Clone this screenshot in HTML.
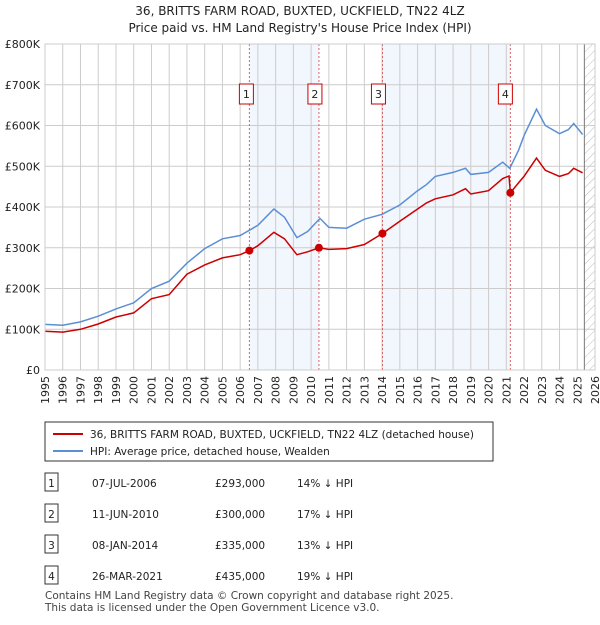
<!DOCTYPE html>
<html><head><meta charset="utf-8"><style>
body{margin:0;background:#fff;font-family:"Liberation Sans","DejaVu Sans",sans-serif;}
svg text{font-family:"DejaVu Sans","Liberation Sans",sans-serif;}
</style></head><body>
<svg width="600" height="620" xmlns="http://www.w3.org/2000/svg">
<defs><pattern id="hatch" width="6" height="6" patternUnits="userSpaceOnUse" patternTransform="rotate(45)"><line x1="0" y1="0" x2="0" y2="6" stroke="#bbb" stroke-width="1"/></pattern></defs>
<text x="300" y="15" text-anchor="middle" font-size="12" fill="#222">36, BRITTS FARM ROAD, BUXTED, UCKFIELD, TN22 4LZ</text>
<text x="300" y="32" text-anchor="middle" font-size="12" fill="#222">Price paid vs. HM Land Registry's House Price Index (HPI)</text>
<g id="plot"></g>
<g>
<rect x="45" y="422" width="448" height="39" fill="#fff" stroke="#333"/>
<line x1="53" y1="434" x2="83" y2="434" stroke="#cc0000" stroke-width="2"/>
<text x="90" y="438" font-size="10.5" fill="#222">36, BRITTS FARM ROAD, BUXTED, UCKFIELD, TN22 4LZ (detached house)</text>
<line x1="53" y1="451" x2="83" y2="451" stroke="#5b8fd4" stroke-width="2"/>
<text x="90" y="455" font-size="10.5" fill="#222">HPI: Average price, detached house, Wealden</text>
</g>
<g id="table" font-size="10.5" fill="#222"></g>
<text x="45" y="599" font-size="10.5" fill="#444">Contains HM Land Registry data © Crown copyright and database right 2025.</text>
<text x="45" y="611" font-size="10.5" fill="#444">This data is licensed under the Open Government Licence v3.0.</text>
</svg>
<script>
const hpiYears=[1995,1996,1997,1998,1999,2000,2001,2002,2003,2004,2005,2006,2007,2007.9,2008.5,2009.2,2009.8,2010.5,2011,2012,2013,2014,2015,2016,2016.5,2017,2018,2018.7,2019,2020,2020.8,2021.2,2021.7,2022,2022.7,2023.2,2024,2024.5,2024.8,2025.3];
const hpiValues=[112,110,118,132,150,165,200,218,262,298,322,330,355,395,375,325,340,372,350,348,370,382,405,440,455,475,485,495,480,485,510,495,540,575,640,600,580,590,605,578];
const priceYears=[1995,1996,1997,1998,1999,2000,2001,2002,2003,2004,2005,2006,2006.52,2007,2007.9,2008.5,2009.2,2009.8,2010.44,2011,2012,2013,2014.02,2015,2016,2016.5,2017,2018,2018.7,2019,2020,2020.8,2021.15,2021.23,2021.7,2022,2022.7,2023.2,2024,2024.5,2024.8,2025.3];
const priceValues=[95,93,100,113,130,140,175,185,235,258,275,283,293,305,338,322,283,290,300,296,298,308,335,365,395,410,420,430,445,432,440,470,476,435,460,475,520,490,475,482,495,484];
const saleLabels=["1","2","3","4"];
const saleYears=[2006.52,2010.44,2014.02,2021.23];
const saleValues=[293,300,335,435];
const saleDates=["07-JUL-2006","11-JUN-2010","08-JAN-2014","26-MAR-2021"];
const salePrices=["£293,000","£300,000","£335,000","£435,000"];
const saleDiffs=["14% ↓ HPI","17% ↓ HPI","13% ↓ HPI","19% ↓ HPI"];
const yTicks=[0,100,200,300,400,500,600,700,800];
const yTickLabels=["£0","£100K","£200K","£300K","£400K","£500K","£600K","£700K","£800K"];
const xStart=1995,xEnd=2026,dataEnd=2025.4;

const L=45,R=595,T=44,B=370,NS="http://www.w3.org/2000/svg";
const xs=y=>L+(y-xStart)/(xEnd-xStart)*(R-L);
const ys=v=>B-v/800*(B-T);
const plot=document.getElementById('plot');
function mk(tag,attrs,parent){const e=document.createElementNS(NS,tag);for(const k in attrs)e.setAttribute(k,attrs[k]);(parent||plot).appendChild(e);return e;}
for(let i=0;i<saleYears.length;i+=2){
 const r=mk('rect',{x:xs(saleYears[i]),y:T,width:xs(saleYears[i+1])-xs(saleYears[i]),height:B-T,fill:'#f2f6fd'});
 
 
}
const h=mk('rect',{x:xs(dataEnd),y:T,width:R-xs(dataEnd),height:B-T,fill:'url(#hatch)'});


for(let y=xStart;y<=xEnd;y++){
 const g=mk('line',{x1:xs(y),x2:xs(y),y1:T,y2:B,stroke:'#ccc','stroke-width':1});
 
 
 const t=mk('text',{x:0,y:0,'font-size':11,fill:'#222','text-anchor':'end',transform:`translate(${xs(y)+4},${B+6}) rotate(-90)`});
 t.textContent=y;
 
 
}
yTicks.forEach((v,i)=>{
 const g=mk('line',{x1:L,x2:R,y1:ys(v),y2:ys(v),stroke:'#ccc','stroke-width':1});
 
 
 const t=mk('text',{x:40,y:ys(v)+4,'font-size':11,fill:'#222','text-anchor':'end'});
 t.textContent=yTickLabels[i];
 
 
});
const dl=mk('line',{x1:xs(dataEnd),x2:xs(dataEnd),y1:T,y2:B,stroke:'#777','stroke-width':1});


const boxOff=[3,4,4,5];
saleYears.forEach((y,i)=>{
 const l=mk('line',{x1:xs(y),x2:xs(y),y1:T,y2:B,stroke:'#e06060','stroke-width':1,'stroke-dasharray':'2,2'});
 
 
 const bx=xs(y)-boxOff[i];
 const r=mk('rect',{x:bx-7,y:84,width:14,height:20,fill:'#fff',stroke:'#cc0000'});
 
 
 const t=mk('text',{x:bx,y:98,'font-size':11,'text-anchor':'middle',fill:'#222'});
 t.textContent=saleLabels[i];
 
 
});
function line(xa,va,col,name){
 const p=mk('path',{d:xa.map((x,i)=>(i?'L':'M')+xs(x).toFixed(1)+','+ys(va[i]).toFixed(1)).join(''),fill:'none',stroke:col,'stroke-width':1.5});
 
 
}
line(hpiYears,hpiValues,'#5b8fd4','hpi-line');
line(priceYears,priceValues,'#cc0000','price-line');
saleYears.forEach((y,i)=>{
 const c=mk('circle',{cx:xs(y),cy:ys(saleValues[i]),r:4,fill:'#cc0000'});
 
 
});
mk('rect',{x:L,y:T,width:R-L,height:B-T,fill:'none',stroke:'#ccc'});
const tb=document.getElementById('table');
saleLabels.forEach((s,i)=>{
 const y=483+i*31;
 const r=mk('rect',{x:45,y:y-10,width:13,height:18,fill:'#fff',stroke:'#333'},tb);
 
 
 [[51.5,s,'middle'],[92,saleDates[i],'start'],[215,salePrices[i],'start'],[297,saleDiffs[i],'start']].forEach(([x,txt,a],j)=>{
  const t=mk('text',{x:x,y:y+4,'text-anchor':a},tb);
  t.textContent=txt;
  
  
 });
});
</script>
</body></html>
